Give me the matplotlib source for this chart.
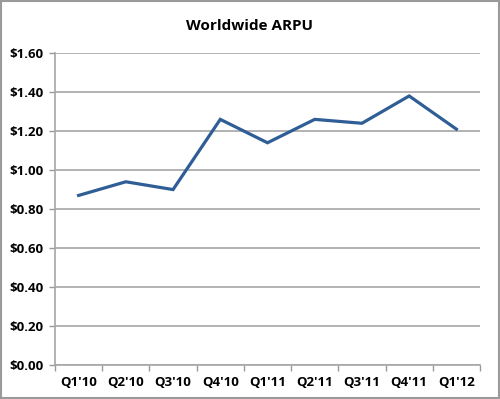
import matplotlib
matplotlib.use("Agg")
import matplotlib.pyplot as plt
from matplotlib.patches import Rectangle
from matplotlib.ticker import FixedLocator

quarters = ["Q1'10", "Q2'10", "Q3'10", "Q4'10", "Q1'11", "Q2'11", "Q3'11", "Q4'11", "Q1'12"]
arpu = [0.87, 0.94, 0.90, 1.26, 1.14, 1.26, 1.24, 1.38, 1.21]
yticks = [0.0, 0.2, 0.4, 0.6, 0.8, 1.0, 1.2, 1.4, 1.6]

plt.rcParams["font.family"] = ["Open Sans", "DejaVu Sans"]
plt.rcParams["font.weight"] = "bold"

fig = plt.figure(figsize=(5.0, 3.99), dpi=100)
ax = fig.add_axes([0.110, 0.085, 0.850, 0.782])

x = list(range(len(quarters)))
ax.plot(x, arpu, color="#2f5e96", linewidth=2.3, solid_joinstyle="miter")

ax.set_xlim(-0.5, len(quarters) - 0.5)
ax.set_ylim(0, 1.6)
ax.set_yticks(yticks)
ax.set_yticklabels([f"${v:.2f}" for v in yticks], fontsize=9.5, fontweight="bold")
ax.set_xticks(x)
ax.set_xticklabels(quarters, fontsize=9.5, fontweight="bold")
ax.tick_params(axis="x", length=0, pad=8)
ax.xaxis.set_minor_locator(FixedLocator([i - 0.5 for i in range(len(quarters) + 1)]))
ax.tick_params(axis="x", which="minor", length=4, color="#999999", width=1)
ax.tick_params(axis="y", length=4, color="#999999", width=1, pad=4)

ax.grid(axis="y", color="#a6a6a6", linewidth=1.2)
ax.set_axisbelow(True)
for side in ["top", "right"]:
    ax.spines[side].set_visible(False)
for side in ["left", "bottom"]:
    ax.spines[side].set_color("#a6a6a6")
    ax.spines[side].set_linewidth(1.2)

fig.text(0.5, 0.935, "Worldwide ARPU", ha="center", va="center",
         fontsize=11, fontweight="bold")

fig.patches.append(Rectangle((0.002, 0.003), 0.996, 0.994, transform=fig.transFigure,
                             fill=False, edgecolor="#9a9a9a", linewidth=1.5))

fig.savefig("out.png", dpi=100)
